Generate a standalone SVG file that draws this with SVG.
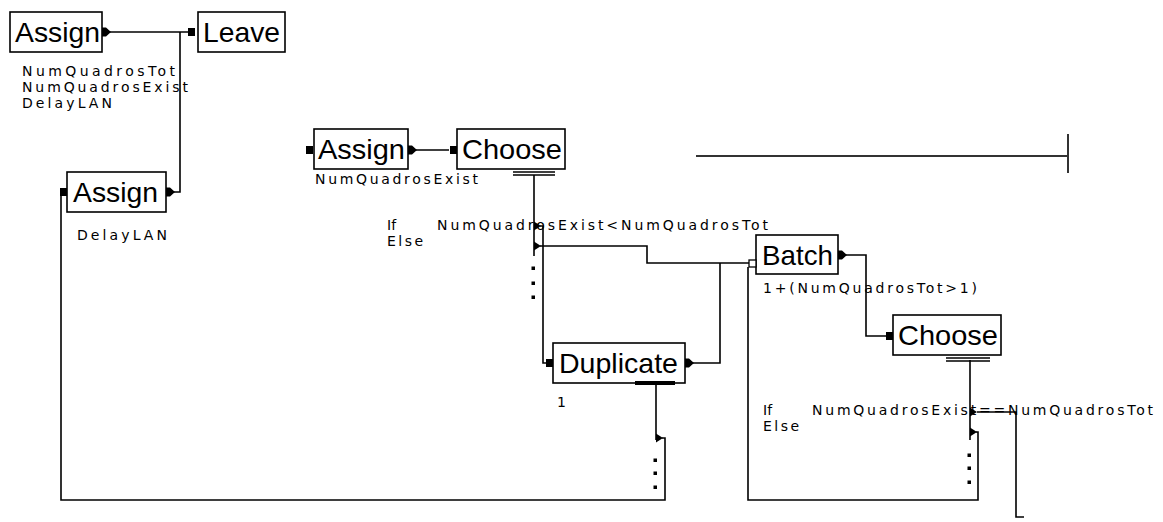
<svg xmlns="http://www.w3.org/2000/svg" width="1163" height="522" viewBox="0 0 1163 522">
<style>
.box{fill:#fff;stroke:#000;stroke-width:1.6}
.big{font-family:"Liberation Sans",Arial,sans-serif;font-size:28px;fill:#000}
.sm{font-family:"DejaVu Sans","Liberation Sans",sans-serif;font-size:14px;fill:#000}
.ln{fill:none;stroke:#000;stroke-width:1.6}
.hol{fill:#fff;stroke:#000;stroke-width:1.3}
.dot{fill:#000}
</style>
<defs>
<path id="outp" d="M0,-4.5 H4 L9,0 L4,4.5 H0 Z"/>
<path id="brp" d="M0,-4.5 L7,0 L0,4.5 Z"/>
<rect id="inp" x="-7" y="-4" width="7" height="8"/>
<rect id="dt" x="-1.5" y="-1.5" width="3.5" height="3.5"/>
</defs>

<g id="connectors">
<path class="ln" d="M110 32 H188"/>
<path class="ln" d="M174 192 H180 V32"/>
<path class="ln" d="M416 150 H449"/>
<path class="ln" d="M534 175 V256"/>
<path class="ln" d="M540 226 H543 V363 H546"/>
<path class="ln" d="M540 246 H647 V263 H749"/>
<path class="ln" d="M693 363 H720 V263"/>
<path class="ln" d="M846 255 H866 V336 H886"/>
<path class="ln" d="M970 360 V440"/>
<path class="ln" d="M977 412 H1016 V517 H1024"/>
<path class="ln" d="M976 432 H978 V500 H748 V267"/>
<path class="ln" d="M656 385 V440"/>
<path class="ln" d="M662 438 H665 V500 H61 V193"/>
<path d="M696 156 H1068 M1068 134 V173" fill="none" stroke="#333" stroke-width="2"/>
<use href="#brp" x="534" y="226"/>
<use href="#brp" x="534" y="246"/>
<use href="#brp" x="970" y="412"/>
<use href="#brp" x="970" y="432"/>
<use href="#brp" x="656" y="438"/>
<g class="dot">
<use href="#dt" x="533" y="268"/><use href="#dt" x="533" y="283"/><use href="#dt" x="533" y="297"/>
<use href="#dt" x="655" y="460"/><use href="#dt" x="655" y="473"/><use href="#dt" x="655" y="487"/>
<use href="#dt" x="969" y="455"/><use href="#dt" x="969" y="468"/><use href="#dt" x="969" y="482"/>
</g>
</g>

<g id="assign1">
<rect class="box" x="10" y="12" width="92" height="40"/>
<text class="big" x="15" y="42" textLength="85" lengthAdjust="spacingAndGlyphs">Assign</text>
<use href="#outp" x="102" y="32"/>
<text class="sm" x="22" y="76" textLength="153" lengthAdjust="spacing">NumQuadrosTot</text>
<text class="sm" x="22" y="92" textLength="166" lengthAdjust="spacing">NumQuadrosExist</text>
<text class="sm" x="22" y="108" textLength="90" lengthAdjust="spacing">DelayLAN</text>
</g>

<g id="leave">
<rect class="box" x="198" y="12" width="87" height="40"/>
<text class="big" x="203" y="42" textLength="77" lengthAdjust="spacingAndGlyphs">Leave</text>
<use href="#inp" x="195" y="32"/>
</g>

<g id="assign2">
<rect class="box" x="67" y="172" width="99" height="40"/>
<text class="big" x="73" y="202" textLength="85" lengthAdjust="spacingAndGlyphs">Assign</text>
<use href="#inp" x="67" y="192"/>
<use href="#outp" x="166" y="192"/>
<text class="sm" x="77" y="240" textLength="90" lengthAdjust="spacing">DelayLAN</text>
</g>

<g id="assign3">
<rect class="box" x="314" y="129" width="94" height="40"/>
<text class="big" x="318" y="159" textLength="87" lengthAdjust="spacingAndGlyphs">Assign</text>
<use href="#inp" x="313" y="150"/>
<use href="#outp" x="408" y="150"/>
<text class="sm" x="315" y="184" textLength="163" lengthAdjust="spacing">NumQuadrosExist</text>
</g>

<g id="choose1">
<rect class="box" x="457" y="129" width="108" height="40"/>
<text class="big" x="462" y="159" textLength="100" lengthAdjust="spacingAndGlyphs">Choose</text>
<use href="#inp" x="457" y="150"/>
<path class="ln" d="M513 172 H555 M513 175 H555"/>
<text class="sm" x="387" y="230">If</text>
<text class="sm" x="387" y="246" textLength="36" lengthAdjust="spacing">Else</text>
<text class="sm" x="437" y="230" textLength="331" lengthAdjust="spacing">NumQuadrosExist&lt;NumQuadrosTot</text>
</g>

<g id="duplicate">
<rect class="box" x="553" y="343" width="132" height="40"/>
<text class="big" x="559" y="373" textLength="119" lengthAdjust="spacingAndGlyphs">Duplicate</text>
<use href="#inp" x="553" y="363"/>
<use href="#outp" x="685" y="363"/>
<rect x="635" y="381" width="40" height="4" fill="#000"/>
<text class="sm" x="557" y="407">1</text>
</g>

<g id="batch">
<rect class="box" x="756" y="235" width="82" height="39"/>
<text class="big" x="762" y="265" textLength="71" lengthAdjust="spacingAndGlyphs">Batch</text>
<rect class="hol" x="749" y="260" width="7" height="7"/>
<use href="#outp" x="838" y="255"/>
<text class="sm" x="763" y="293" textLength="214" lengthAdjust="spacing">1+(NumQuadrosTot&gt;1)</text>
</g>

<g id="choose2">
<rect class="box" x="893" y="315" width="108" height="40"/>
<text class="big" x="898" y="345" textLength="100" lengthAdjust="spacingAndGlyphs">Choose</text>
<use href="#inp" x="893" y="336"/>
<path class="ln" d="M946 358 H990 M946 361 H990"/>
<text class="sm" x="763" y="415">If</text>
<text class="sm" x="763" y="431" textLength="36" lengthAdjust="spacing">Else</text>
<text class="sm" x="812" y="415" textLength="341" lengthAdjust="spacing">NumQuadrosExist==NumQuadrosTot</text>
</g>
</svg>
